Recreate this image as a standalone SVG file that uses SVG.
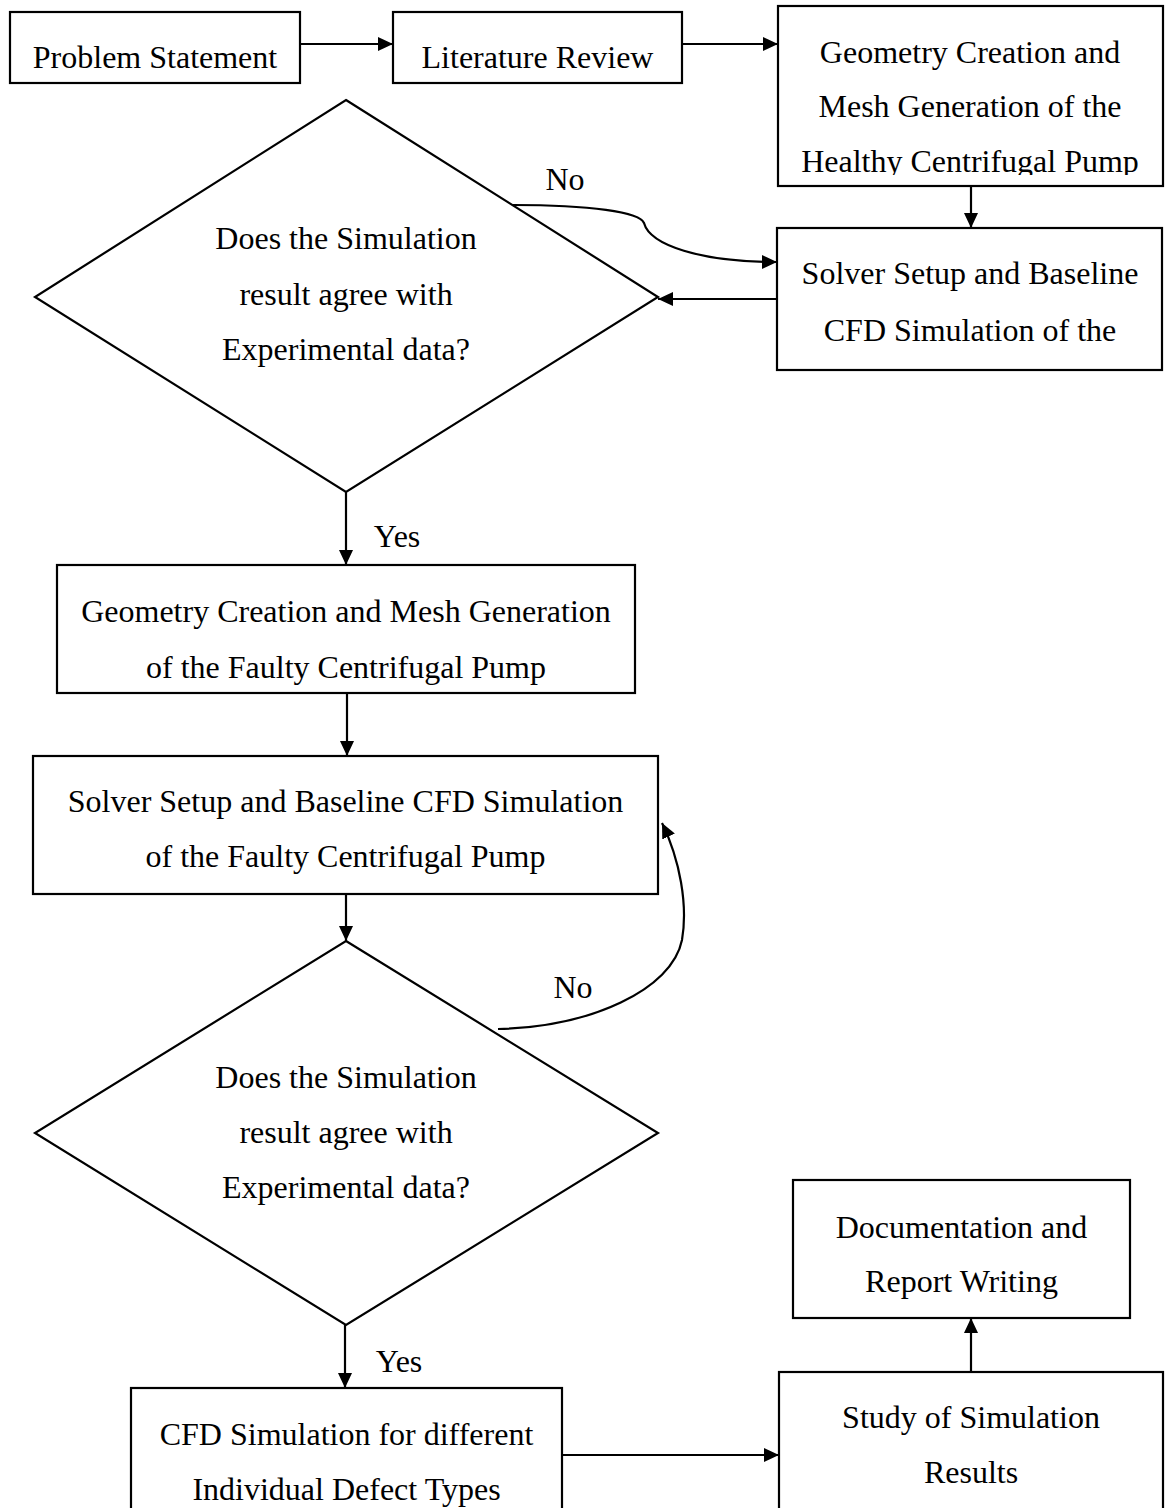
<svg xmlns="http://www.w3.org/2000/svg" width="1165" height="1508" viewBox="0 0 1165 1508">
<style>
.box{fill:#fff;stroke:#000;stroke-width:2.2}
.t{font-family:"Liberation Serif","Times New Roman",serif;font-size:32px;fill:#000;text-anchor:middle}
.c{fill:none;stroke:#000;stroke-width:2.2}
</style>
<defs>
<marker id="ah" markerUnits="userSpaceOnUse" markerWidth="15" markerHeight="14" refX="15" refY="7" orient="auto"><path d="M0,0 L15,7 L0,14 z" fill="#000"/></marker>
<clipPath id="clip3"><rect x="778" y="6" width="385" height="169"/></clipPath>
</defs>
<rect width="1165" height="1508" fill="#fff"/>
<g id="n-problem"><rect class="box" x="10" y="12" width="290" height="71"/><text class="t" x="155" y="68">Problem Statement</text></g>
<g id="n-literature"><rect class="box" x="393" y="12" width="289" height="71"/><text class="t" x="537.5" y="68">Literature Review</text></g>
<g id="n-geom-healthy"><rect class="box" x="778" y="6" width="385" height="180"/><g clip-path="url(#clip3)"><text class="t" x="970" y="63">Geometry Creation and</text><text class="t" x="970" y="117">Mesh Generation of the</text><text class="t" x="970" y="172">Healthy Centrifugal Pump</text></g></g>
<g id="n-solver-healthy"><rect class="box" x="777" y="228" width="385" height="142"/><text class="t" x="970" y="284">Solver Setup and Baseline</text><text class="t" x="970" y="341">CFD Simulation of the</text></g>
<g id="n-decision1"><polygon class="box" points="346,100 658,297 346,492 35,297"/><text class="t" x="346" y="249">Does the Simulation</text><text class="t" x="346" y="305">result agree with</text><text class="t" x="346" y="360">Experimental data?</text></g>
<g id="n-geom-faulty"><rect class="box" x="57" y="565" width="578" height="128"/><text class="t" x="346" y="622">Geometry Creation and Mesh Generation</text><text class="t" x="346" y="678">of the Faulty Centrifugal Pump</text></g>
<g id="n-solver-faulty"><rect class="box" x="33" y="756" width="625" height="138"/><text class="t" x="345.5" y="812">Solver Setup and Baseline CFD Simulation</text><text class="t" x="345.5" y="867">of the Faulty Centrifugal Pump</text></g>
<g id="n-decision2"><polygon class="box" points="346,941 658,1133 346,1325 35,1133"/><text class="t" x="346" y="1088">Does the Simulation</text><text class="t" x="346" y="1143">result agree with</text><text class="t" x="346" y="1198">Experimental data?</text></g>
<g id="n-cfd-defects"><rect class="box" x="131" y="1388" width="431" height="140"/><text class="t" x="346.5" y="1445">CFD Simulation for different</text><text class="t" x="346.5" y="1500">Individual Defect Types</text></g>
<g id="n-study"><rect class="box" x="779" y="1372" width="384" height="156"/><text class="t" x="971" y="1428">Study of Simulation</text><text class="t" x="971" y="1483">Results</text></g>
<g id="n-doc"><rect class="box" x="793" y="1180" width="337" height="138"/><text class="t" x="961.5" y="1238">Documentation and</text><text class="t" x="961.5" y="1292">Report Writing</text></g>
<g id="connectors">
<path class="c" d="M300,44 H393" marker-end="url(#ah)"/>
<path class="c" d="M682,44 H778" marker-end="url(#ah)"/>
<path class="c" d="M971,186 V228" marker-end="url(#ah)"/>
<path class="c" d="M777,299 H658" marker-end="url(#ah)"/>
<path class="c" d="M513,205 C590,205 640,212 644,223 C650,245 700,262 777,262" marker-end="url(#ah)"/>
<path class="c" d="M346,492 V565" marker-end="url(#ah)"/>
<path class="c" d="M347,693 V756" marker-end="url(#ah)"/>
<path class="c" d="M346,894 V941" marker-end="url(#ah)"/>
<path class="c" d="M498,1029 C590,1027 672,990 682,940 C688,905 680,860 662,823" marker-end="url(#ah)"/>
<path class="c" d="M345,1325 V1388" marker-end="url(#ah)"/>
<path class="c" d="M562,1455 H779" marker-end="url(#ah)"/>
<path class="c" d="M971,1372 V1318" marker-end="url(#ah)"/>
<text class="t" x="565" y="190">No</text>
<text class="t" x="397" y="547">Yes</text>
<text class="t" x="573" y="998">No</text>
<text class="t" x="399" y="1372">Yes</text>
</g>
</svg>
